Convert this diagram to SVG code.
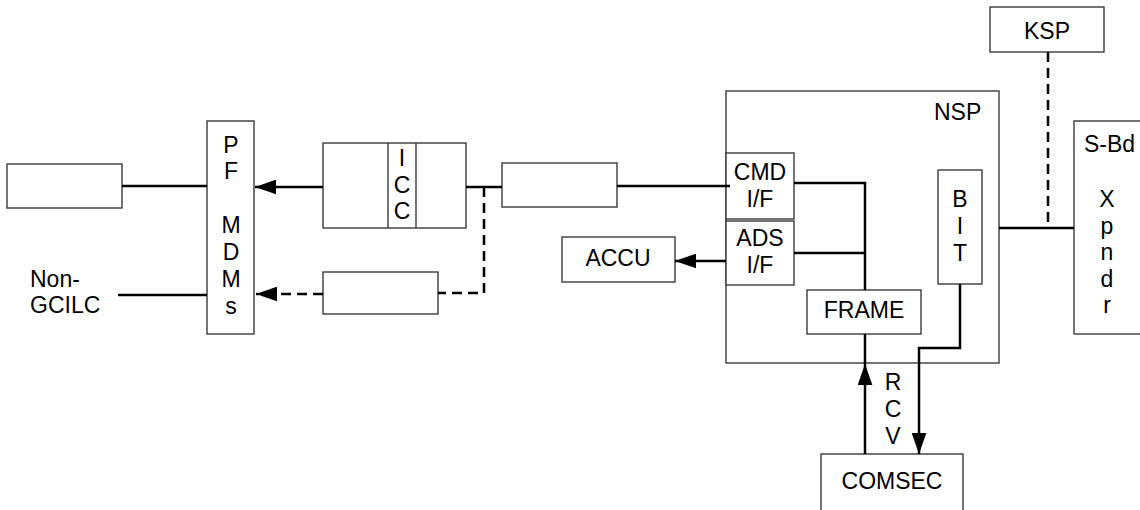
<svg xmlns="http://www.w3.org/2000/svg" width="1140" height="510" viewBox="0 0 1140 510">
<style>
.box{fill:#fff;stroke:#3a3a3a;stroke-width:1.4}
.t{font-family:"Liberation Sans",Arial,sans-serif;font-size:23px;fill:#000}
.m{text-anchor:middle}
.c{fill:none;stroke:#000;stroke-width:2.5}
.d{fill:none;stroke:#000;stroke-width:2.5;stroke-dasharray:10,6}
</style>
<defs>
<marker id="ah" viewBox="0 0 20 14" refX="20" refY="7" markerWidth="21" markerHeight="15" orient="auto" markerUnits="userSpaceOnUse"><path d="M0,0 L20,7 L0,14 z" fill="#000"/></marker>
</defs>
<rect width="1140" height="510" fill="#fff"/>
<g id="left-box"><rect class="box" x="7" y="164" width="115" height="44"/></g>
<g id="non-gcilc"><text class="t" x="30" y="287">Non-</text><text class="t" x="30" y="313">GCILC</text></g>
<g id="pf-mdms">
<rect class="box" x="207" y="121" width="47" height="213"/>
<text class="t m" x="231" y="153">P</text>
<text class="t m" x="231" y="179">F</text>
<text class="t m" x="231" y="233">M</text>
<text class="t m" x="231" y="260">D</text>
<text class="t m" x="231" y="287">M</text>
<text class="t m" x="231" y="314">s</text>
</g>
<g id="icc">
<rect class="box" x="323" y="143" width="143" height="85"/>
<line class="box" x1="388" y1="143" x2="388" y2="228"/>
<line class="box" x1="416" y1="143" x2="416" y2="228"/>
<text class="t m" x="402" y="166">I</text>
<text class="t m" x="402" y="193">C</text>
<text class="t m" x="402" y="219">C</text>
</g>
<g id="box2"><rect class="box" x="502" y="163" width="115" height="44"/></g>
<g id="box3"><rect class="box" x="323" y="272" width="115" height="42"/></g>
<g id="accu"><rect class="box" x="562" y="237" width="113" height="45"/><text class="t m" x="618" y="266">ACCU</text></g>
<g id="nsp">
<rect class="box" x="726" y="91" width="273" height="272"/>
<text class="t" x="934" y="120">NSP</text>
</g>
<g id="cmd-if"><rect class="box" x="726" y="153" width="68" height="66"/><text class="t m" x="760" y="180">CMD</text><text class="t m" x="760" y="207">I/F</text></g>
<g id="ads-if"><rect class="box" x="726" y="221" width="68" height="64"/><text class="t m" x="760" y="246">ADS</text><text class="t m" x="760" y="273">I/F</text></g>
<g id="frame"><rect class="box" x="807" y="290" width="114" height="44"/><text class="t m" x="864" y="318">FRAME</text></g>
<g id="bit">
<rect class="box" x="938" y="170" width="44" height="114"/>
<text class="t m" x="960" y="207">B</text>
<text class="t m" x="960" y="234">I</text>
<text class="t m" x="960" y="261">T</text>
</g>
<g id="rcv">
<text class="t m" x="893" y="390">R</text>
<text class="t m" x="893" y="417">C</text>
<text class="t m" x="893" y="444">V</text>
</g>
<g id="comsec"><rect class="box" x="821" y="454" width="142" height="70"/><text class="t m" x="892" y="489">COMSEC</text></g>
<g id="ksp"><rect class="box" x="990" y="7" width="114" height="45"/><text class="t m" x="1047" y="39">KSP</text></g>
<g id="sbd-xpndr">
<rect class="box" x="1074" y="121" width="70" height="213"/>
<text class="t" x="1084" y="152">S-Bd</text>
<text class="t m" x="1107" y="207">X</text>
<text class="t m" x="1107" y="234">p</text>
<text class="t m" x="1107" y="260">n</text>
<text class="t m" x="1107" y="287">d</text>
<text class="t m" x="1107" y="313">r</text>
</g>
<g id="connectors">
<line class="c" x1="122" y1="186" x2="207" y2="186"/>
<line class="c" x1="323" y1="187" x2="255" y2="187" marker-end="url(#ah)"/>
<line class="c" x1="466" y1="187" x2="502" y2="187"/>
<line class="c" x1="617" y1="186" x2="730" y2="186"/>
<path class="d" d="M484,187 V293 H438"/>
<line class="d" x1="323" y1="294" x2="256" y2="294" marker-end="url(#ah)"/>
<line class="c" x1="118" y1="295" x2="207" y2="295"/>
<line class="c" x1="726" y1="261" x2="675" y2="261" marker-end="url(#ah)"/>
<path class="c" d="M794,183 H865 V290"/>
<line class="c" x1="794" y1="253" x2="865" y2="253"/>
<line class="c" x1="865" y1="334" x2="865" y2="364"/>
<line class="c" x1="865" y1="454" x2="865" y2="364" marker-end="url(#ah)"/>
<path class="c" d="M960,284 V348 H919 V454" marker-end="url(#ah)"/>
<line class="c" x1="999" y1="228" x2="1074" y2="228"/>
<line class="d" x1="1048" y1="52" x2="1048" y2="228"/>
</g>
</svg>
